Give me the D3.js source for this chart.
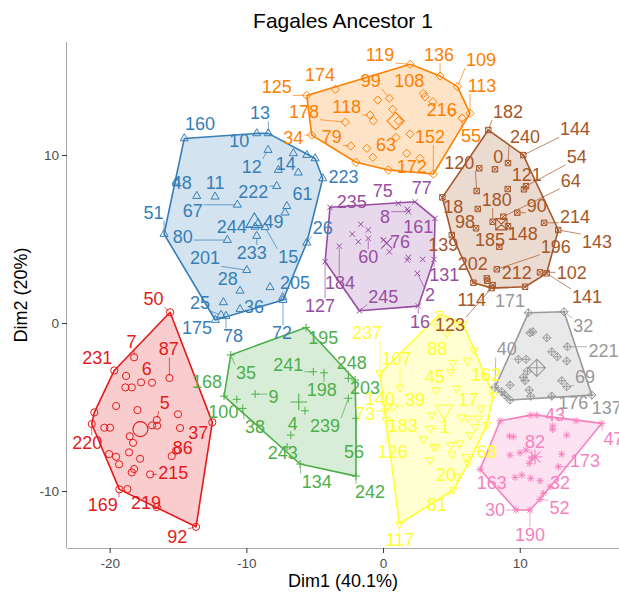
<!DOCTYPE html>
<html><head><meta charset="utf-8">
<script src="https://cdn.jsdelivr.net/npm/d3@7"></script>
<style>
body{margin:0;background:#fff;}
text{font-family:"Liberation Sans",Arial,Helvetica,sans-serif;}
</style>
</head><body>
<svg id="chart" width="619" height="593"></svg>
<script>
// ---- data: [label, Dim1, Dim2] per cluster ----
const cluster1 = [["50",-15.58,0.64],["7",-18.21,-2.04],["231",-19.66,-2.82],["87",-15.63,-3.27],["",-18.80,-3.15],["",-18.85,-3.83],["",-18.38,-3.83],["6",-17.70,-3.53],["",-16.90,-3.55],["",-19.53,-4.94],["",-17.97,-5.18],["",-21.12,-5.32],["220",-21.31,-6.01],["",-20.39,-6.23],["",-19.97,-6.23],["",-16.90,-6.09],["",-16.53,-6.11],["5",-16.55,-5.77],["",-15.00,-5.43],["",-14.85,-6.25],["37",-12.49,-5.91],["",-18.53,-6.74],["",-18.29,-7.13],["",-18.58,-7.70],["",-17.77,-8.08],["",-20.04,-7.80],["",-19.53,-7.96],["",-19.31,-8.41],["",-18.21,-8.69],["",-18.38,-8.89],["",-15.46,-7.92],["86",-15.14,-7.60],["215",-17.04,-9.01],["169",-19.29,-9.90],["",-18.70,-9.88],["219",-16.55,-10.95],["92",-13.68,-12.13]];
const cluster2 = [["160",-14.54,10.99],["10",-9.24,11.29],["13",-8.39,11.29],["12",-8.41,10.30],["",-6.56,10.10],["",-5.58,10.00],["",-4.97,9.80],["223",-4.41,8.61],["",-6.20,8.95],["14",-7.66,9.11],["222",-7.78,8.15],["61",-7.04,6.96],["",-7.17,6.57],["48",-15.14,8.41],["",-13.63,7.56],["11",-12.29,7.52],["67",-10.66,7.04],["15",-8.63,5.70],["49",-9.14,5.95],["244",-9.36,5.73],["233",-9.24,5.18],["26",-5.58,4.78],["80",-11.39,4.94],["51",-16.02,5.30],["201",-9.97,3.15],["28",-10.46,1.92],["",-8.27,2.13],["205",-7.34,1.53],["72",-7.32,1.37],["",-11.68,1.23],["25",-11.85,0.48],["36",-10.46,0.82],["175",-12.27,0.18],["78",-11.49,0.42]];
const cluster3 = [["195",-5.63,-0.26],["35",-11.14,-1.90],["168",-11.63,-4.35],["100",-10.70,-4.54],["38",-10.26,-5.08],["9",-9.36,-4.23],["",-5.71,-5.22],["241",-5.10,-2.90],["198",-4.32,-2.96],["248",-2.54,-3.29],["203",-2.05,-3.39],["239",-2.54,-4.48],["4",-6.75,-6.67],["134",-6.07,-8.39],["243",-7.02,-7.38],["56",-1.98,-5.67],["242",-1.98,-9.11]];
const cluster4 = [["235",-3.88,6.89],["75",1.12,7.13],["77",2.34,7.22],["8",1.85,6.63],["",1.78,6.77],["161",3.80,6.23],["",-1.63,5.88],["",-1.08,5.54],["",-2.25,5.30],["",-1.81,4.84],["60",-1.08,5.04],["184",-3.20,4.58],["76",0.46,4.24],["",0.02,4.94],["",1.85,3.91],["",1.78,3.75],["",2.90,3.79],["131",3.73,3.79],["127",-4.24,3.65],["2",2.51,2.96],["16",2.58,1.01],["245",-1.73,0.73]];
const cluster5 = [["119",1.98,15.40],["136",4.17,14.70],["109",5.44,14.07],["113",6.36,12.48],["174",-3.49,13.91],["125",-5.58,13.55],["178",-2.76,11.96],["34",-5.22,11.19],["79",-2.36,10.54],["",-1.98,9.57],["99",0.46,13.38],["",-0.39,13.27],["",0.71,12.72],["118",-0.95,12.38],["",-0.71,12.04],["",1.12,12.04],["",0.95,11.05],["",-1.19,10.40],["63",-0.75,9.86],["172",0.39,9.11],["",1.98,11.25],["",1.73,10.10],["",2.71,9.80],["152",3.68,8.87],["108",2.95,13.67],["",3.07,13.47],["",3.64,13.17],["216",5.03,12.52],["55",5.78,12.20]];
const cluster6 = [["",4.17,0.54],["",3.97,-0.22],["",4.66,-0.61],["",5.39,-0.12],["",5.87,-0.06],["237",-0.22,-2.99],["107",1.24,-3.83],["",6.66,-1.61],["",6.17,-2.24],["88",5.10,-2.36],["",4.95,-2.90],["45",3.88,-3.99],["",5.39,-3.89],["162",8.07,-4.29],["39",0.75,-4.98],["140",0.27,-5.02],["73",0.15,-5.24],["17",7.15,-5.08],["",3.56,-5.48],["",5.76,-5.61],["",6.24,-5.67],["",6.97,-5.67],["",6.73,-6.17],["",7.59,-6.07],["1",3.44,-6.27],["183",2.95,-6.92],["",3.68,-7.36],["",3.88,-7.36],["",4.95,-7.26],["",5.58,-7.16],["",5.03,-7.80],["",6.36,-6.67],["",3.44,-8.15],["68",6.07,-7.96],["",6.24,-8.35],["20",5.39,-9.15],["81",5.14,-9.94],["117",1.19,-11.96],["126",0.22,-5.77]];
const cluster7 = [["182",7.70,11.49],["144",10.26,10.00],["240",9.14,9.52],["",7.04,9.21],["0",8.19,9.15],["120",6.85,7.86],["",9.12,7.98],["121",10.31,7.96],["54",10.46,8.15],["18",4.34,7.48],["",6.93,6.79],["64",8.80,6.33],["90",9.82,6.57],["98",6.80,5.64],["180",8.02,6.03],["214",11.78,5.97],["143",12.82,5.54],["139",5.03,5.24],["185",8.51,4.54],["148",9.14,5.77],["196",8.32,3.20],["202",7.59,2.66],["",7.63,2.52],["",6.61,2.40],["114",8.02,2.26],["123",7.95,2.08],["212",10.39,2.16],["102",11.48,3.02],["141",11.97,2.96]];
const cluster8 = [["",8.56,-5.82],["",10.80,-5.48],["",11.24,-5.48],["43",12.41,-6.13],["",14.12,-5.82],["47",16.00,-5.97],["",9.24,-6.73],["",9.53,-6.77],["",12.41,-6.33],["",13.44,-6.67],["",9.29,-7.86],["",10.02,-7.72],["",10.46,-7.56],["82",10.88,-8.05],["",10.70,-8.35],["",13.07,-7.80],["173",12.82,-8.55],["163",7.10,-8.71],["",9.66,-9.18],["",10.15,-9.05],["",10.80,-9.24],["",11.48,-9.39],["32",12.22,-9.74],["",11.73,-10.14],["52",11.48,-10.49],["30",9.73,-11.13],["190",10.75,-11.13]];
const cluster9 = [["171",10.63,0.61],["32",13.24,0.67],["",10.75,-0.58],["",10.95,-0.52],["",11.98,-0.88],["221",13.48,-1.41],["",9.90,-2.16],["",10.46,-2.16],["",12.34,-1.71],["",12.75,-2.01],["",13.44,-2.26],["",10.56,-2.86],["",10.26,-3.23],["",10.39,-3.43],["",9.29,-3.69],["",13.07,-3.43],["69",13.44,-3.79],["40",8.19,-3.83],["",8.68,-4.09],["",8.92,-4.29],["",10.70,-3.99],["",10.80,-4.35],["176",12.34,-4.35],["137",15.27,-4.29],["",9.29,-4.58]];

// ---- repelled label placements: [label, Dim1, Dim2] ----
const labels1 = [["50",-16.80,1.41],["7",-18.41,-1.11],["231",-20.90,-2.07],["87",-15.68,-1.57],["6",-17.29,-2.76],["5",-15.97,-4.78],["37",-13.51,-6.57],["220",-21.63,-7.16],["86",-14.65,-7.46],["215",-15.34,-8.95],["169",-20.50,-10.85],["219",-17.34,-10.70],["92",-15.05,-12.72]];
const labels2 = [["160",-13.39,11.83],["13",-9.00,12.48],["10",-10.51,10.85],["12",-9.61,9.30],["14",-7.12,9.46],["48",-14.73,8.35],["11",-12.29,8.32],["222",-9.49,7.82],["61",-5.90,7.68],["223",-2.90,8.71],["67",-13.92,6.68],["51",-16.80,6.57],["244",-11.07,5.73],["49",-8.02,6.03],["80",-14.65,5.14],["26",-4.41,5.64],["233",-9.61,4.18],["15",-6.93,3.95],["201",-13.02,3.85],["28",-11.36,2.60],["205",-6.44,2.36],["25",-13.39,1.17],["36",-9.44,0.93],["175",-13.61,-0.30],["78",-10.97,-0.80],["72",-7.39,-0.61]];
const labels3 = [["195",-4.37,-0.91],["35",-10.02,-2.96],["168",-12.87,-3.49],["100",-11.68,-5.28],["9",-8.02,-4.42],["241",-6.93,-2.50],["198",-4.48,-3.99],["248",-2.29,-2.36],["203",-1.32,-3.89],["239",-4.24,-6.13],["4",-6.61,-6.01],["38",-9.36,-6.21],["243",-7.34,-7.72],["134",-4.85,-9.45],["56",-2.12,-7.66],["242",-0.95,-10.04]];
const labels4 = [["235",-2.29,7.22],["75",-0.02,7.88],["77",2.83,8.02],["8",0.15,6.33],["161",2.58,5.70],["76",1.24,4.84],["60",-1.08,3.91],["184",-3.15,2.36],["127",-4.61,1.01],["131",4.48,2.86],["245",0.02,1.57],["2",3.44,1.67],["16",2.71,0.08]];
const labels5 = [["119",-0.22,15.95],["136",4.10,15.95],["109",7.17,15.65],["113",7.24,14.11],["174",-4.61,14.76],["125",-7.78,14.03],["99",-0.90,14.42],["108",1.92,14.42],["178",-5.78,12.58],["118",-2.66,12.84],["216",4.29,12.68],["34",-6.56,10.99],["79",-3.75,11.05],["63",0.22,10.60],["152",3.44,11.09],["55",6.44,11.13],["172",2.10,9.30]];
const labels6 = [["237",-1.17,-0.60],["107",1.00,-2.16],["88",3.97,-1.57],["45",3.80,-3.20],["162",7.53,-3.10],["39",2.34,-4.58],["140",-0.22,-4.52],["73",-1.32,-5.43],["17",6.24,-4.58],["1",4.54,-6.17],["183",1.44,-6.13],["126",0.71,-7.66],["68",7.59,-7.66],["20",4.61,-9.05],["81",3.93,-10.83],["117",1.24,-12.92]];
const labels7 = [["182",9.14,12.56],["240",10.39,11.09],["144",14.05,11.53],["0",8.43,9.90],["120",5.58,9.54],["121",10.51,8.81],["54",14.17,9.90],["64",13.73,8.47],["18",5.14,6.92],["180",8.32,7.32],["90",11.24,6.96],["98",6.00,6.03],["214",14.05,6.29],["143",15.65,4.82],["185",7.83,4.94],["148",10.22,5.30],["139",4.41,4.64],["196",12.63,4.54],["202",6.56,3.51],["212",9.78,2.96],["102",13.80,2.99],["114",6.49,1.37],["141",14.92,1.55],["123",4.90,-0.12]];
const labels8 = [["43",12.58,-5.48],["47",16.85,-6.92],["82",11.12,-7.07],["173",14.78,-8.20],["163",7.95,-9.51],["32",12.95,-9.54],["52",12.90,-11.03],["30",8.19,-11.13],["190",10.75,-12.62]];
const labels9 = [["171",9.29,1.33],["32",14.65,-0.18],["221",16.12,-1.65],["40",9.05,-1.57],["69",14.78,-3.23],["176",13.92,-4.78],["137",16.36,-5.08]];

const clusterPoints = [cluster1, cluster2, cluster3, cluster4, cluster5, cluster6, cluster7, cluster8, cluster9];
const clusterLabels = [labels1, labels2, labels3, labels4, labels5, labels6, labels7, labels8, labels9];
const clusterColors = ["#E41A1C","#377EB8","#4DAF4A","#984EA3","#FF7F00","#FFFF33","#A65628","#F781BF","#999999"];
const clusterShapes = ["circle","triangle","plus","cross","diamond","triangleDown","squareCross","asterisk","diamondPlus"];
const xTicks = [-20, -10, 0, 10];
const yTicks = [-10, 0, 10];
const titleText = "Fagales Ancestor 1";
const xTitle = "Dim1 (40.1%)";
const yTitle = "Dim2 (20%)";

// ---- layout ----
const W = 619, H = 593;
const margin = {top: 42, right: 0, bottom: 45, left: 67};
const svg = d3.select("#chart");
const x = d3.scaleLinear().domain([-23.12, 17.26]).range([margin.left, W - margin.right]);
const y = d3.scaleLinear().domain([-13.39, 16.73]).range([H - margin.bottom, margin.top]);

// point glyphs in the style of R's pch 1..9
function glyph(shape, cx, cy, r) {
  const p = d3.path();
  const diag = r * 0.75;
  switch (shape) {
    case "circle":
      p.moveTo(cx + r, cy); p.arc(cx, cy, r, 0, 2 * Math.PI); break;
    case "triangle": {
      const s = r * 1.3;
      p.moveTo(cx, cy - s); p.lineTo(cx + s * 0.866, cy + s * 0.5); p.lineTo(cx - s * 0.866, cy + s * 0.5); p.closePath(); break;
    }
    case "triangleDown": {
      const s = r * 1.3;
      p.moveTo(cx, cy + s); p.lineTo(cx + s * 0.866, cy - s * 0.5); p.lineTo(cx - s * 0.866, cy - s * 0.5); p.closePath(); break;
    }
    case "plus":
      p.moveTo(cx - r * 1.1, cy); p.lineTo(cx + r * 1.1, cy); p.moveTo(cx, cy - r * 1.1); p.lineTo(cx, cy + r * 1.1); break;
    case "cross":
      p.moveTo(cx - diag, cy - diag); p.lineTo(cx + diag, cy + diag); p.moveTo(cx - diag, cy + diag); p.lineTo(cx + diag, cy - diag); break;
    case "diamond":
      p.moveTo(cx, cy - r * 1.15); p.lineTo(cx + r * 1.15, cy); p.lineTo(cx, cy + r * 1.15); p.lineTo(cx - r * 1.15, cy); p.closePath(); break;
    case "squareCross":
      p.rect(cx - diag, cy - diag, diag * 2, diag * 2);
      p.moveTo(cx - diag, cy - diag); p.lineTo(cx + diag, cy + diag); p.moveTo(cx - diag, cy + diag); p.lineTo(cx + diag, cy - diag); break;
    case "asterisk":
      p.moveTo(cx - r, cy); p.lineTo(cx + r, cy); p.moveTo(cx, cy - r); p.lineTo(cx, cy + r);
      p.moveTo(cx - diag, cy - diag); p.lineTo(cx + diag, cy + diag); p.moveTo(cx - diag, cy + diag); p.lineTo(cx + diag, cy - diag); break;
    case "diamondPlus":
      p.moveTo(cx, cy - r * 1.15); p.lineTo(cx + r * 1.15, cy); p.lineTo(cx, cy + r * 1.15); p.lineTo(cx - r * 1.15, cy); p.closePath();
      p.moveTo(cx - r * 1.15, cy); p.lineTo(cx + r * 1.15, cy); p.moveTo(cx, cy - r * 1.15); p.lineTo(cx, cy + r * 1.15); break;
  }
  return p.toString();
}

// ---- axes ----
const xAxis = svg.append("g")
  .attr("transform", `translate(0,${H - margin.bottom})`)
  .call(d3.axisBottom(x).tickValues(xTicks).tickSize(5).tickSizeOuter(0).tickFormat(d => String(d)));
const yAxis = svg.append("g")
  .attr("transform", `translate(${margin.left},0)`)
  .call(d3.axisLeft(y).tickValues(yTicks).tickSize(5).tickSizeOuter(0).tickFormat(d => String(d)));
[xAxis, yAxis].forEach(g => {
  g.select(".domain").attr("stroke", "#a8a8a8").attr("stroke-width", 1);
  g.selectAll(".tick line").attr("stroke", "#333").attr("stroke-width", 1);
  g.selectAll(".tick text").attr("fill", "#4d4d4d").style("font-size", "13.5px")
    .style("font-family", '"Liberation Sans", Arial, sans-serif');
});
xAxis.selectAll(".tick text").attr("dy", "0.9em");
xAxis.select(".domain").attr("d", `M${margin.left},0.5H${W}`);
yAxis.select(".domain").attr("d", `M-0.5,${margin.top}V${H - margin.bottom}`);

// ---- layers ----
const hullLayer = svg.append("g");
const pointLayer = svg.append("g");
const segLayer = svg.append("g");
const labelLayer = svg.append("g");

// convex hull frame per cluster
clusterPoints.forEach((pts, i) => {
  const color = clusterColors[i];
  const px = pts.map(d => [x(d[1]), y(d[2])]);
  const hull = d3.polygonHull(px);
  hullLayer.append("path")
    .attr("d", "M" + hull.map(p => p.join(",")).join("L") + "Z")
    .attr("fill", color).attr("fill-opacity", 0.22)
    .attr("stroke", color).attr("stroke-width", 1.6).attr("stroke-linejoin", "round");
});

// points and cluster centres
clusterPoints.forEach((pts, i) => {
  const color = clusterColors[i], shape = clusterShapes[i];
  pointLayer.selectAll(null).data(pts).enter().append("path")
    .attr("d", d => glyph(shape, x(d[1]), y(d[2]), 3.6))
    .attr("fill", "none").attr("stroke", color).attr("stroke-width", 1);
  const cx = d3.mean(pts, d => d[1]), cy = d3.mean(pts, d => d[2]);
  pointLayer.append("path")
    .attr("d", glyph(shape, x(cx), y(cy), 7.5))
    .attr("fill", "none").attr("stroke", color).attr("stroke-width", 1.1);
});

// labels with leader segments
clusterLabels.forEach((labs, i) => {
  const color = clusterColors[i];
  const lookup = new Map(clusterPoints[i].filter(d => d[0] !== "").map(d => [d[0], d]));
  labs.forEach(l => {
    const t = labelLayer.append("text")
      .attr("x", x(l[1])).attr("y", y(l[2]))
      .attr("text-anchor", "middle").attr("dominant-baseline", "central")
      .attr("fill", color).style("font-size", "18px")
      .text(l[0]);
    const pt = lookup.get(l[0]);
    if (!pt) return;
    const b = t.node().getBBox();
    const px = x(pt[1]), py = y(pt[2]);
    const pad = 1;
    const nx = Math.max(b.x - pad, Math.min(px, b.x + b.width + pad));
    const ny = Math.max(b.y + 2, Math.min(py, b.y + b.height - 2));
    const dist = Math.hypot(nx - px, ny - py);
    if (dist > 7) {
      const ux = (nx - px) / dist, uy = (ny - py) / dist;
      segLayer.append("line")
        .attr("x1", px + ux * 2).attr("y1", py + uy * 2)
        .attr("x2", nx).attr("y2", ny)
        .attr("stroke", color).attr("stroke-width", 0.7);
    }
  });
});

// ---- titles ----
const panelMid = (margin.left + W - margin.right) / 2;
svg.append("text").attr("x", panelMid).attr("y", 20)
  .attr("text-anchor", "middle").attr("dominant-baseline", "central")
  .style("font-size", "21px").attr("fill", "#000").text(titleText);
svg.append("text").attr("x", panelMid).attr("y", 581)
  .attr("text-anchor", "middle").attr("dominant-baseline", "central")
  .style("font-size", "18px").attr("fill", "#000").text(xTitle);
svg.append("text")
  .attr("transform", `translate(21,${(margin.top + H - margin.bottom) / 2}) rotate(-90)`)
  .attr("text-anchor", "middle").attr("dominant-baseline", "central")
  .style("font-size", "18px").attr("fill", "#000").text(yTitle);
</script>
</body></html>
